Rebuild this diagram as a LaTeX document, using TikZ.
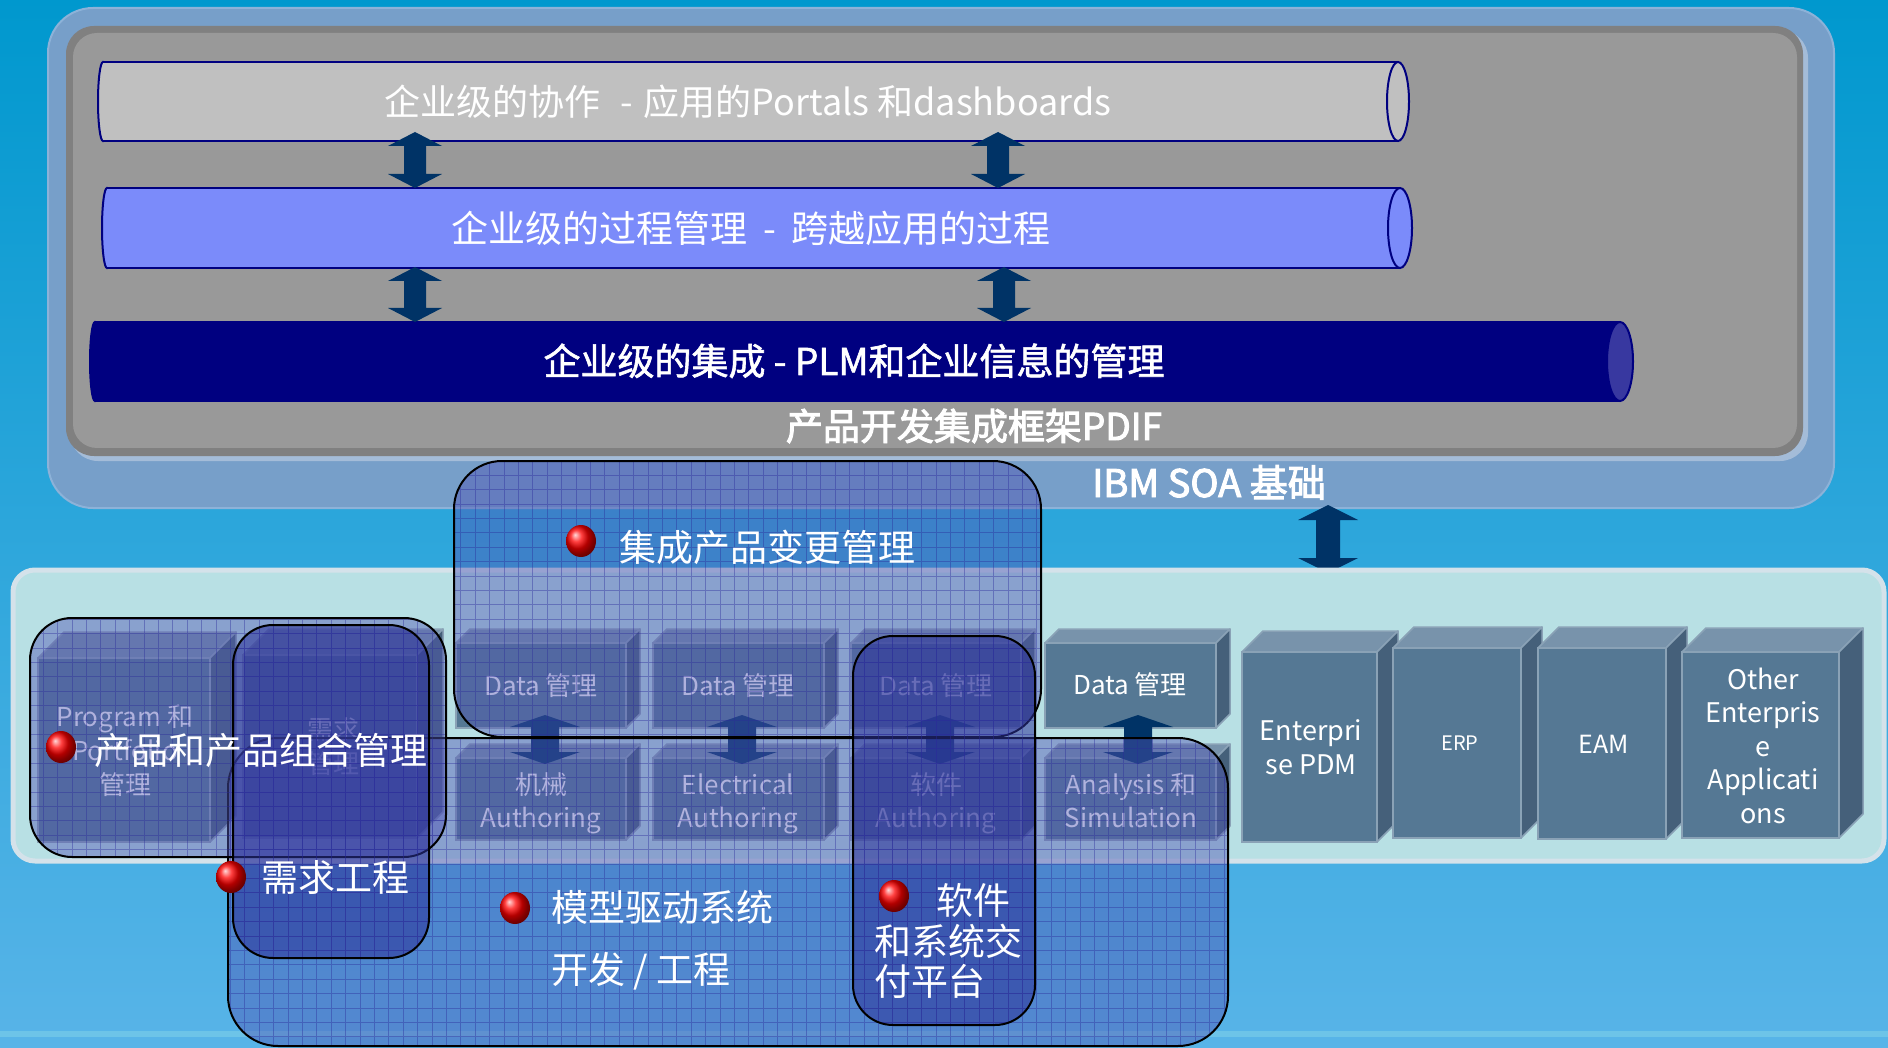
\documentclass[tikz,border=0pt]{standalone}
\usepackage{fontspec}
\setmainfont{Noto Sans CJK SC}
\newfontfamily\boldcjk{Noto Sans CJK SC}[FakeBold=1.6]
\newfontfamily\boldercjk{Noto Sans CJK SC}[FakeBold=2.6]
\definecolor{bgtop}{HTML}{0098CE}
\definecolor{bgbot}{HTML}{58B4E8}
\definecolor{bandc}{HTML}{7CD0E8}
\definecolor{soa}{HTML}{779FC9}
\definecolor{soaedge}{HTML}{8DB2D8}
\definecolor{grayshadow}{HTML}{A4BCD8}
\definecolor{grayframe}{HTML}{808080}
\definecolor{grayin}{HTML}{999999}
\definecolor{cylA}{HTML}{C0C0C0}
\definecolor{cylB}{HTML}{7B8BFA}
\definecolor{cylC}{HTML}{000080}
\definecolor{cylCcap}{HTML}{3838A0}
\definecolor{navyline}{HTML}{000080}
\definecolor{arrowc}{HTML}{003366}
\definecolor{panel}{HTML}{B8E0E4}
\definecolor{paneledge}{HTML}{D4E2EA}
\definecolor{boxfront}{HTML}{557894}
\definecolor{boxtop}{HTML}{7893AB}
\definecolor{boxside}{HTML}{45607A}
\definecolor{boxedge}{HTML}{8AA2B6}
\definecolor{ovl}{HTML}{5055B4}
\definecolor{ovldark}{HTML}{2C3399}
\definecolor{gridc}{HTML}{2A2A9A}
\tikzset{
  lbl/.style={text=white, inner sep=0pt, text height=29pt, text depth=1pt, font=\fontsize{37}{44}\selectfont},
  boxlbl/.style={text=white, inner sep=0pt, align=center, text height=21pt, text depth=1pt, font=\fontsize{26}{34}\selectfont},
  ovllight/.style={fill=ovl, fill opacity=0.45},
  ovlheavy/.style={fill=ovldark, fill opacity=0.55},
}
% horizontal cylinder: x0, yc, x1(cap centre), ry, body, cap, cap rx
\newcommand{\cylh}[7]{%
  \filldraw[fill=#5, draw=navyline, line width=2pt] ({#1+5},#2) ellipse [x radius=5pt, y radius=#4pt];
  \fill[#5] ({#1+5},{#2-#4}) rectangle (#3,{#2+#4});
  \draw[navyline, line width=2pt] ({#1+5},{#2-#4}) -- (#3,{#2-#4}) ({#1+5},{#2+#4}) -- (#3,{#2+#4});
  \filldraw[fill=#6, draw=navyline, line width=2pt] (#3,#2) ellipse [x radius=#7pt, y radius=#4pt];
}
% vertical double block arrow: cx, ytop, ybot, head half, shaft half, head length, colour
\newcommand{\blockarrow}[7]{%
  \fill[#7] (#1,#2) -- ({#1+#4},{#2+#6}) -- ({#1+#5},{#2+#6}) -- ({#1+#5},{#3-#6}) -- ({#1+#4},{#3-#6}) -- (#1,#3)
    -- ({#1-#4},{#3-#6}) -- ({#1-#5},{#3-#6}) -- ({#1-#5},{#2+#6}) -- ({#1-#4},{#2+#6}) -- cycle;
}
% 3D box: x0 y0 x1 y1 depth
\newcommand{\boxthree}[5]{%
  \filldraw[fill=boxtop, draw=boxedge, line width=1.5pt, line join=round] (#1,#2) -- ({#1+#5},{#2-#5}) -- ({#3+#5},{#2-#5}) -- (#3,#2) -- cycle;
  \filldraw[fill=boxside, draw=boxedge, line width=1.5pt, line join=round] (#3,#2) -- ({#3+#5},{#2-#5}) -- ({#3+#5},{#4-#5}) -- (#3,#4) -- cycle;
  \filldraw[fill=boxfront, draw=boxedge, line width=1.5pt] (#1,#2) rectangle (#3,#4);
}
% translucent grid overlay: x0 y0 x1 y1 radius style
\newcommand{\ovlbox}[6]{%
  \fill[#6, rounded corners=#5pt] (#1,#2) rectangle (#3,#4);
  \begin{scope}
    \clip[rounded corners=#5pt] (#1,#2) rectangle (#3,#4);
    \draw[gridc, line width=0.9pt, opacity=0.4, step=14.4pt] (0,0) grid (1888,1048);
  \end{scope}
  \draw[black, line width=2pt, rounded corners=#5pt] (#1,#2) rectangle (#3,#4);
}
\begin{document}
\begin{tikzpicture}[x=1pt,y=-1pt]
\useasboundingbox (0,0) rectangle (1888,1048);
\shade[top color=bgtop, bottom color=bgbot] (0,0) rectangle (1888,1048);
\fill[bandc, opacity=0.6] (0,1031) rectangle (1888,1037);

% IBM SOA panel
\filldraw[fill=soa, draw=soaedge, line width=2pt, rounded corners=45pt] (48,8) rectangle (1834,508);
% PDIF framework
\fill[grayshadow, rounded corners=28pt] (70,30) rectangle (1808,461);
\fill[grayframe, rounded corners=28pt] (66,26) rectangle (1803,456);
\fill[grayin, rounded corners=24pt] (73,33) rectangle (1797,448);

\cylh{98}{101.5}{1398}{39.5}{cylA}{cylA}{11}
\cylh{102}{228}{1400}{40}{cylB}{cylB}{12}
\cylh{90}{361.5}{1620}{39.5}{cylC}{cylCcap}{13}

\blockarrow{415}{132}{188}{27}{11}{14}{arrowc}
\blockarrow{998}{132}{188}{27}{11}{14}{arrowc}
\blockarrow{415}{267}{322}{27}{11}{14}{arrowc}
\blockarrow{1004}{267}{322}{27}{11}{14}{arrowc}

\node[lbl, font=\fontsize{36}{44}\selectfont] (t1) at (748,102) {企业级的协作\hspace{0.55em}-\hspace{0.3em}应用的Portals 和dashboards};
\node[lbl] (t2) at (751,229) {企业级的过程管理\hspace{0.45em}-\hspace{0.4em}跨越应用的过程};
\node[lbl, font=\boldcjk\fontsize{37}{44}\selectfont] (t3) at (854,361) {企业级的集成 - PLM和企业信息的管理};
\node[lbl, font=\boldercjk\fontsize{37}{44}\selectfont] (t4) at (974,426) {产品开发集成框架PDIF};
\node[lbl, font=\boldercjk\fontsize{38}{44}\selectfont] (t5) at (1209,483) {IBM SOA 基础};

\blockarrow{1328}{505}{573}{30}{12}{15}{arrowc}

% lower panel
\filldraw[fill=panel, draw=paneledge, line width=5pt, rounded corners=22pt] (13,570) rectangle (1884,861);

% boxes
\boxthree{38}{658}{210}{842}{26}
\boxthree{243}{655}{417}{838}{26}
\boxthree{456}{643}{626}{728}{14}
\boxthree{653}{643}{824}{728}{14}
\boxthree{851}{643}{1021}{728}{14}
\boxthree{1045}{643}{1216}{728}{14}
\boxthree{456}{758}{626}{840}{14}
\boxthree{653}{758}{824}{840}{14}
\boxthree{851}{758}{1021}{840}{14}
\boxthree{1045}{758}{1216}{840}{14}
\boxthree{1242}{652}{1377}{842}{21}
\boxthree{1393}{648}{1521}{838}{21}
\boxthree{1538}{648}{1666}{839}{21}
\boxthree{1682}{652}{1839}{838}{24}

% multi-line labels are placed by the visual centre of their last line
\node[boxlbl] (bP) at (125,784) {Program 和\\Portfolio\\管理};
\node[boxlbl] (bQ) at (333,763) {需求\\管理};
\node[boxlbl] (bC1) at (541,685) {Data 管理};
\node[boxlbl] (bC2) at (738,685) {Data 管理};
\node[boxlbl] (bC3) at (936,685) {Data 管理};
\node[boxlbl] (bC4) at (1130,684) {Data 管理};
\node[boxlbl, font=\fontsize{26}{33}\selectfont] (bD1) at (541,817) {机械\\Authoring};
\node[boxlbl, font=\fontsize{26}{33}\selectfont] (bD2) at (738,817) {Electrical\\Authoring};
\node[boxlbl, font=\fontsize{26}{33}\selectfont] (bD3) at (936,817) {软件\\Authoring};
\node[boxlbl, font=\fontsize{26}{33}\selectfont] (bD4) at (1131,817) {Analysis 和\\Simulation};
\node[boxlbl, font=\fontsize{27}{34}\selectfont] (bE) at (1311,764) {Enterpri\\se PDM};
\node[boxlbl, font=\fontsize{20}{24}\selectfont, text height=16pt] (bERP) at (1460,743) {ERP};
\node[boxlbl, font=\fontsize{25}{30}\selectfont] (bEAM) at (1604,743) {EAM};
\node[boxlbl, font=\fontsize{27}{33.5}\selectfont] (bO) at (1763,813) {Other\\Enterpris\\e\\Applicati\\ons};

\blockarrow{545}{715}{764}{35}{14}{12}{arrowc}
\blockarrow{742}{715}{764}{35}{14}{12}{arrowc}
\blockarrow{940}{715}{764}{35}{14}{12}{arrowc}
\blockarrow{1138}{715}{764}{35}{14}{12}{arrowc}

% translucent grid overlays
\ovlbox{454}{461}{1041}{737}{48}{ovllight}
\ovlbox{228}{738}{1228}{1046}{50}{ovllight}
\ovlbox{30}{618}{446}{857}{42}{ovllight}
\ovlbox{233}{625}{429}{958}{40}{ovlheavy}
\ovlbox{853}{636}{1035}{1025}{40}{ovlheavy}

% bullets
\shade[ball color=red] (581,541) ellipse [x radius=15pt, y radius=16pt];
\shade[ball color=red] (61,747) ellipse [x radius=15pt, y radius=16pt];
\shade[ball color=red] (231,877) ellipse [x radius=15pt, y radius=16pt];
\shade[ball color=red] (515,908) ellipse [x radius=15pt, y radius=16pt];
\shade[ball color=red] (894,896) ellipse [x radius=15pt, y radius=16pt];

\node[lbl, anchor=west] (jc) at (619,547) {集成产品变更管理};
\node[lbl, anchor=west] (cp) at (94,750) {产品和产品组合管理};
\node[lbl, anchor=west] (xq) at (261,877) {需求工程};
\node[lbl, anchor=west] (mx1) at (551,907) {模型驱动系统};
\node[lbl, anchor=west] (mx2) at (551,969) {开发 / 工程};
\node[lbl, anchor=west] (rj1) at (936,900) {软件};
\node[lbl, anchor=west] (rj2) at (874,941) {和系统交};
\node[lbl, anchor=west] (rj3) at (874,981) {付平台};
\end{tikzpicture}
\end{document}
